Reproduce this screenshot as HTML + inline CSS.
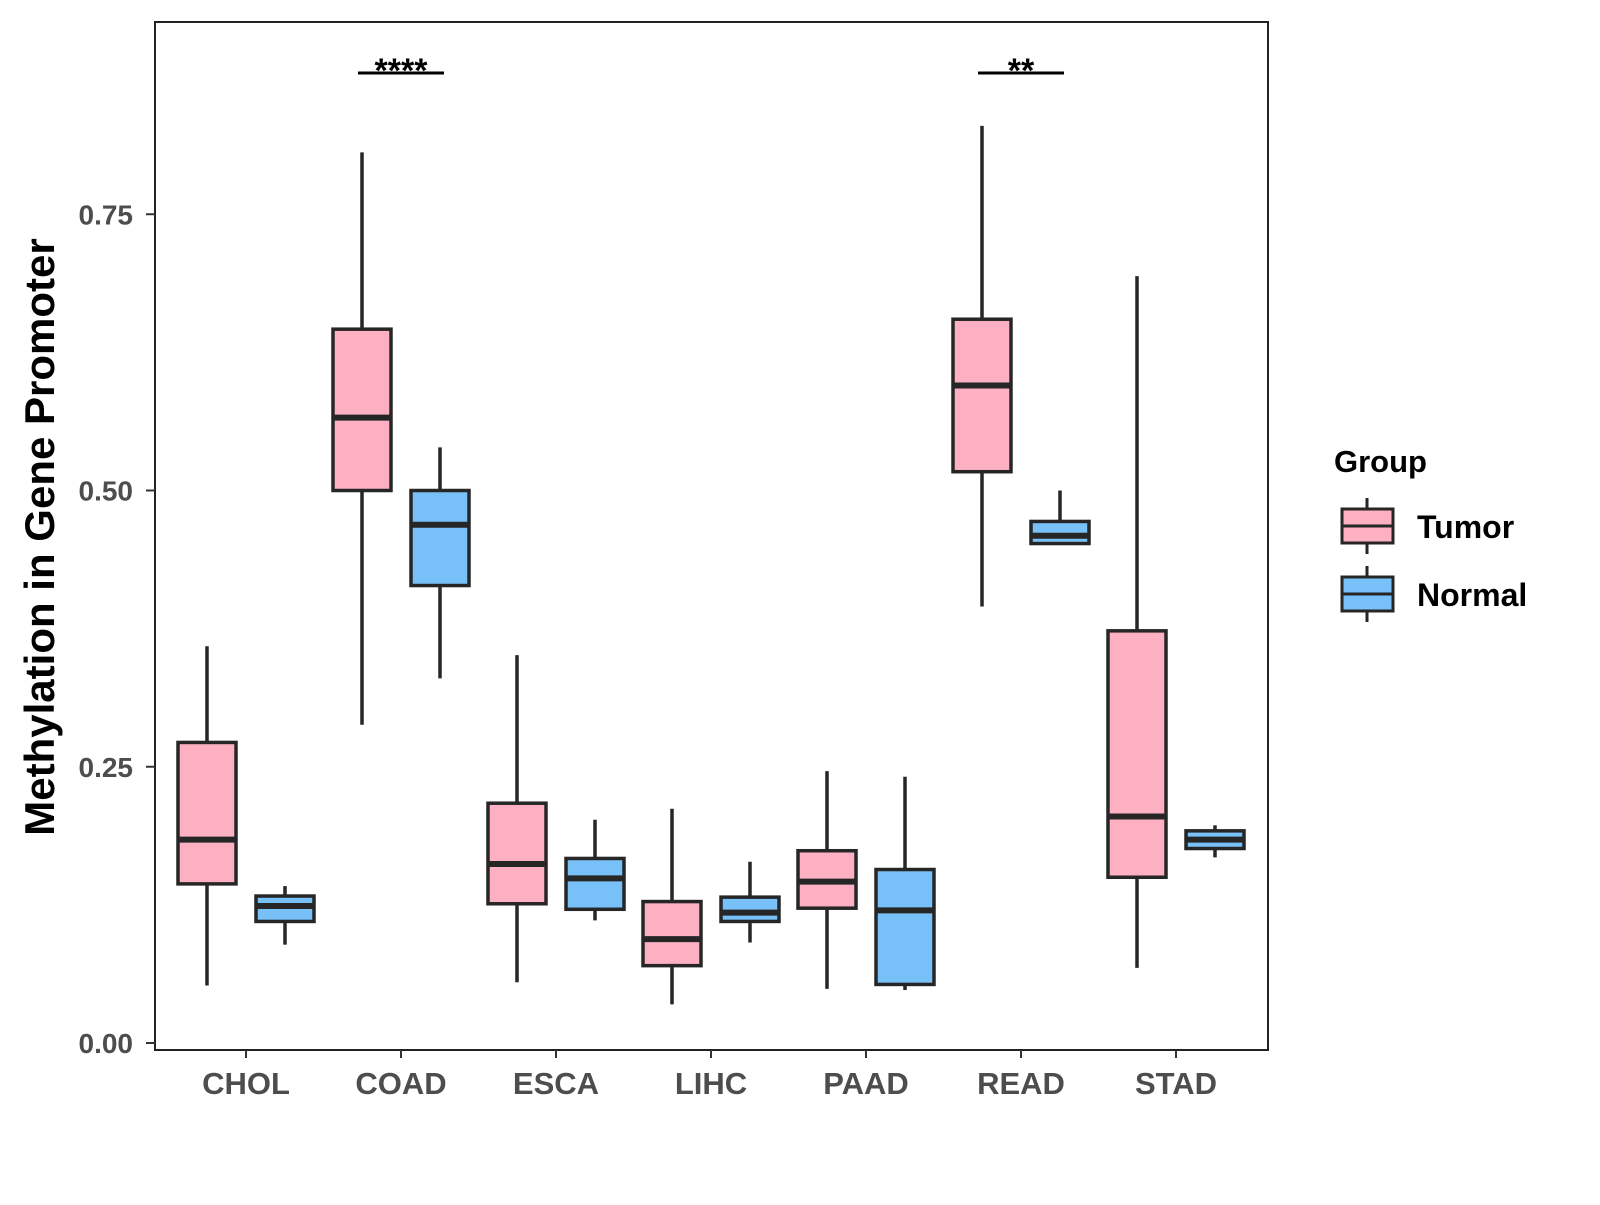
<!DOCTYPE html>
<html><head><meta charset="utf-8"><style>
body{margin:0;background:#fff;}
svg text{font-family:"Liberation Sans",Arial,sans-serif;font-weight:bold;}
</style></head><body>
<svg id="chart" width="1600" height="1200" xmlns="http://www.w3.org/2000/svg">
<rect x="155" y="22" width="1113" height="1028" fill="#fff" stroke="#222" stroke-width="2"/>
<g id="marks"></g>
<g id="axes"></g>
<text transform="translate(54,537) rotate(-90)" text-anchor="middle" font-size="42" fill="#000">Methylation in Gene Promoter</text>
<g>
<text x="1334" y="472" font-size="31" fill="#000">Group</text>
<g>
<line x1="1367" y1="498" x2="1367" y2="554" stroke="#262626" stroke-width="3"/>
<rect x="1342" y="509" width="51" height="34" fill="#fcb0c2" stroke="#262626" stroke-width="3"/>
<line x1="1342" y1="526" x2="1393" y2="526" stroke="#262626" stroke-width="3"/>
<text x="1417" y="538" font-size="32" fill="#000">Tumor</text></g>
<g>
<line x1="1367" y1="566" x2="1367" y2="622" stroke="#262626" stroke-width="3"/>
<rect x="1342" y="577" width="51" height="34" fill="#78c0f8" stroke="#262626" stroke-width="3"/>
<line x1="1342" y1="594" x2="1393" y2="594" stroke="#262626" stroke-width="3"/>
<text x="1417" y="606" font-size="32" fill="#000">Normal</text></g>
</g>
</svg>
<script>
const categories=["CHOL","COAD","ESCA","LIHC","PAAD","READ","STAD"];
const tumorMin=[0.052,0.288,0.055,0.035,0.049,0.395,0.068];
const tumorQ1=[0.144,0.500,0.126,0.070,0.122,0.517,0.150];
const tumorMed=[0.184,0.566,0.162,0.094,0.146,0.595,0.205];
const tumorQ3=[0.272,0.646,0.217,0.128,0.174,0.655,0.373];
const tumorMax=[0.359,0.806,0.351,0.212,0.246,0.830,0.694];
const normalMin=[0.089,0.330,0.111,0.091,0.048,0.452,0.168];
const normalQ1=[0.110,0.414,0.121,0.110,0.053,0.452,0.176];
const normalMed=[0.124,0.469,0.149,0.118,0.120,0.459,0.184];
const normalQ3=[0.133,0.500,0.167,0.132,0.157,0.472,0.192];
const normalMax=[0.142,0.539,0.202,0.164,0.241,0.500,0.197];
const yTicks=[0,0.25,0.5,0.75];
const yTickLabels=["0.00","0.25","0.50","0.75"];
const sigCats=["COAD","READ"];
const sigLabels=["****","**"];

const NS="http://www.w3.org/2000/svg";
const y=v=>1043-v*1105;
const x=i=>246+i*155;
const marks=document.getElementById('marks'),axes=document.getElementById('axes');
function mk(tag,attrs,parent){const e=document.createElementNS(NS,tag);for(const k in attrs)e.setAttribute(k,attrs[k]);parent.appendChild(e);return e;}
function box(cx,mn,q1,md,q3,mx,fill,name){
  const g=mk('g',{},marks);
  
  
  mk('line',{x1:cx,x2:cx,y1:y(mx),y2:y(mn),stroke:'#262626','stroke-width':3.5},g);
  mk('rect',{x:cx-29,y:y(q3),width:58,height:y(q1)-y(q3),fill:fill,stroke:'#262626','stroke-width':3.5},g);
  mk('line',{x1:cx-29,x2:cx+29,y1:y(md),y2:y(md),stroke:'#262626','stroke-width':6},g);
}
categories.forEach((c,i)=>{
  box(x(i)-39,tumorMin[i],tumorQ1[i],tumorMed[i],tumorQ3[i],tumorMax[i],'#fcb0c2','box-tumor-'+c.toLowerCase());
  box(x(i)+39,normalMin[i],normalQ1[i],normalMed[i],normalQ3[i],normalMax[i],'#78c0f8','box-normal-'+c.toLowerCase());
  mk('line',{x1:x(i),x2:x(i),y1:1050,y2:1058,stroke:'#333','stroke-width':2},axes);
  const t=mk('text',{x:x(i),y:1094,'text-anchor':'middle','font-size':31,fill:'#4d4d4d'},axes);
  t.textContent=c;
  
  
});
yTicks.forEach((v,i)=>{
  mk('line',{x1:146,x2:155,y1:y(v),y2:y(v),stroke:'#333','stroke-width':2},axes);
  const t=mk('text',{x:133,y:y(v)+10,'text-anchor':'end','font-size':28,fill:'#4d4d4d'},axes);
  t.textContent=yTickLabels[i];
  
  
});
sigCats.forEach((c,j)=>{
  const i=categories.indexOf(c);
  const g=mk('g',{},marks);
  
  
  mk('line',{x1:x(i)-43,x2:x(i)+43,y1:73,y2:73,stroke:'#000','stroke-width':3},g);
  const t=mk('text',{x:x(i),y:82,'text-anchor':'middle','font-size':34,fill:'#000'},g);
  t.textContent=sigLabels[j];
});
</script>
</body></html>
